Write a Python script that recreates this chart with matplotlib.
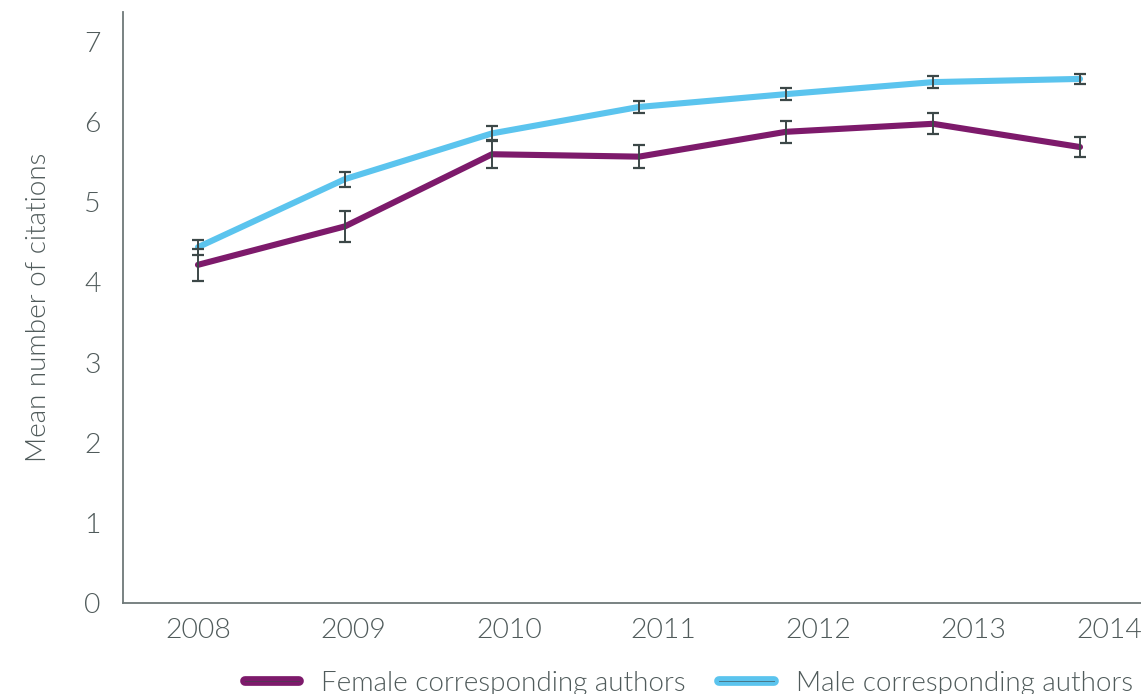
import matplotlib
matplotlib.use("Agg")
import matplotlib.pyplot as plt
from matplotlib.lines import Line2D
from matplotlib.legend_handler import HandlerTuple

years = ["2008", "2009", "2010", "2011", "2012", "2013", "2014"]
female_mean = [4.22, 4.70, 5.60, 5.57, 5.88, 5.98, 5.69]
female_err = [0.20, 0.195, 0.17, 0.14, 0.135, 0.13, 0.12]
male_mean = [4.44, 5.29, 5.86, 6.19, 6.35, 6.50, 6.54]
male_err = [0.094, 0.094, 0.087, 0.075, 0.079, 0.079, 0.066]
series_names = ["Female corresponding authors", "Male corresponding authors"]

# year labels sit slightly to the right of the plotted points
label_pos = [0.0, 1.054, 2.116, 3.163, 4.218, 5.272, 6.197]

plt.rcParams["font.family"] = ["Lato", "DejaVu Sans"]
W = 300  # light weight
TEXT = "#505b5b"
PURPLE = "#7d1a6b"
BLUE = "#5bc4ee"
ERR = "#3c4848"

fig = plt.figure(figsize=(11.41, 6.94), dpi=100)
ax = fig.add_axes([123 / 1141, 91 / 694, 1018 / 1141, 591 / 694])

x = list(range(len(years)))
for mean, err, col in [(female_mean, female_err, PURPLE), (male_mean, male_err, BLUE)]:
    ax.plot(x, mean, color=col, lw=4.4, solid_capstyle="round",
            solid_joinstyle="round", zorder=2)
    ax.errorbar(x, mean, yerr=err, fmt="none", ecolor=ERR, elinewidth=1.4,
                capsize=4, capthick=1.6, zorder=3)

ax.set_xlim(-0.51, 6.415)
ax.set_ylim(0, 7.375)
ax.set_yticks(range(0, 8))
ax.set_xticks(label_pos)
ax.set_xticklabels(years)

for s in ["top", "right"]:
    ax.spines[s].set_visible(False)
for s in ["left", "bottom"]:
    ax.spines[s].set_color("#6e7878")
    ax.spines[s].set_linewidth(1.3)

ax.tick_params(axis="both", length=0, labelsize=20.5, colors=TEXT)
ax.tick_params(axis="y", pad=16)
ax.tick_params(axis="x", pad=11)
for lab in ax.get_xticklabels() + ax.get_yticklabels():
    lab.set_fontweight(W)

ax.set_ylabel("Mean number of citations", fontsize=20, color=TEXT,
              fontweight=W, labelpad=24)

handles = []
for col in [PURPLE, BLUE]:
    thick = Line2D([], [], color=col, lw=7, solid_capstyle="round")
    thin = Line2D([], [], color="#3c4848", lw=0.7, alpha=0.6)
    handles.append((thick, thin))

leg = fig.legend(handles, series_names, loc="center left",
                 bbox_to_anchor=(245 / 1141, 11 / 694), ncol=2, frameon=False,
                 prop={"size": 20, "weight": W},
                 handlelength=1.95, handletextpad=0.8,
                 columnspacing=1.2, borderpad=0, borderaxespad=0,
                 handler_map={tuple: HandlerTuple(ndivide=1)})
for t in leg.get_texts():
    t.set_color(TEXT)

fig.savefig("out.png", dpi=100)
